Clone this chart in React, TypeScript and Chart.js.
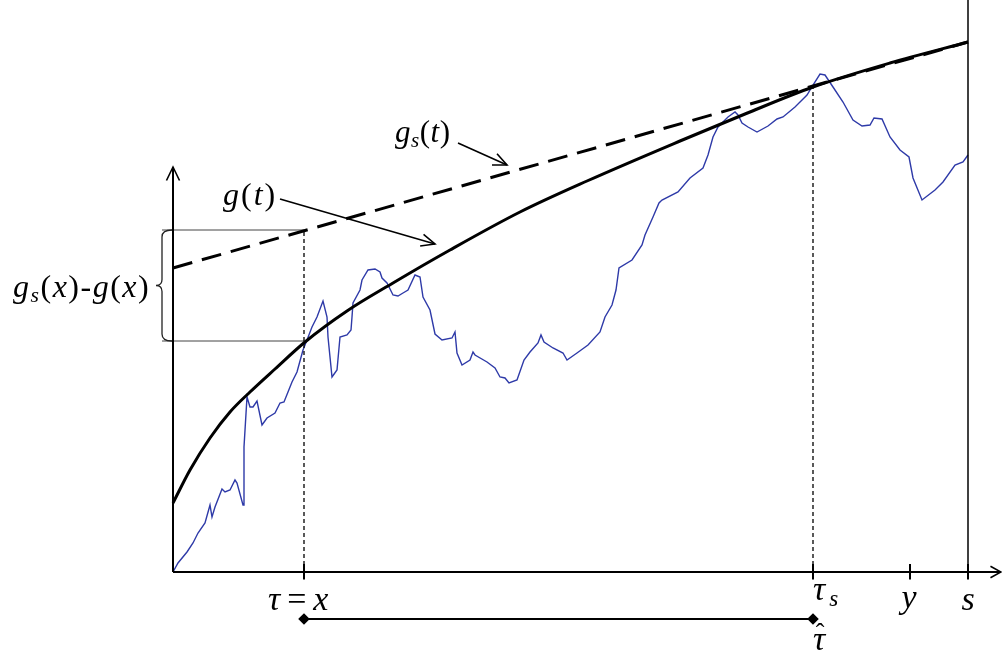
import React, { useEffect, useRef, useState } from "react";
import { Chart, registerables } from "chart.js";

Chart.register(...registerables);

// Brownian-like path W(t)
const walkT = [0.0, 0.5, 1.4, 2.0, 2.5, 3.2, 3.7, 3.9, 4.2, 4.9, 5.2, 5.7, 6.2, 6.4, 7.0, 7.1, 7.4, 7.7, 8.0, 8.4, 8.9, 9.4, 10.2, 10.7, 11.1, 11.5, 11.9, 12.4, 13.0, 13.4, 13.9, 14.4, 15.0, 15.4, 15.5, 15.9, 16.4, 16.7, 17.4, 17.8, 17.9, 18.0, 18.7, 18.9, 19.5, 20.2, 20.7, 20.9, 21.4, 22.0, 22.5, 23.0, 23.5, 24.2, 24.7, 25.0, 25.7, 26.2, 26.9, 27.9, 28.2, 28.4, 28.9, 29.7, 30.0, 30.2, 31.4, 32.2, 32.7, 33.2, 33.6, 34.4, 35.1, 35.7, 36.5, 36.8, 37.1, 38.0, 39.0, 39.4, 40.4, 41.5, 42.7, 43.2, 43.9, 44.3, 44.6, 45.9, 46.9, 47.2, 48.0, 48.6, 48.9, 50.5, 51.7, 53.0, 53.5, 54.0, 54.5, 55.5, 56.2, 56.5, 56.9, 57.5, 58.4, 59.5, 60.4, 61.0, 62.2, 63.4, 64.0, 64.7, 65.2, 66.0, 67.0, 68.0, 68.9, 69.7, 70.1, 70.9, 71.7, 72.7, 73.6, 74.0, 74.9, 76.2, 77.0, 78.2, 79.0, 79.5];
const walkV = [0.0, 0.9, 2.0, 2.9, 3.9, 4.9, 6.7, 5.5, 6.5, 8.3, 8.0, 8.2, 9.2, 8.9, 6.7, 12.5, 17.5, 16.5, 16.5, 17.1, 14.7, 15.4, 15.9, 16.9, 17.0, 18.0, 19.0, 20.0, 22.2, 23.2, 24.5, 25.5, 27.1, 25.5, 23.5, 19.5, 20.2, 23.5, 23.7, 24.2, 25.5, 26.9, 28.2, 29.2, 30.2, 30.3, 30.0, 29.4, 28.9, 27.7, 27.6, 27.9, 28.2, 29.7, 29.5, 27.5, 26.2, 23.8, 23.2, 23.4, 24.0, 21.9, 20.7, 21.2, 22.0, 21.7, 21.0, 20.4, 19.5, 19.4, 18.9, 19.2, 21.2, 22.0, 22.9, 23.7, 23.0, 22.4, 21.9, 21.2, 21.9, 22.7, 24.0, 25.5, 26.7, 28.2, 30.4, 31.2, 32.7, 33.7, 35.5, 36.9, 37.2, 38.0, 39.4, 40.4, 41.7, 43.5, 44.5, 45.5, 46.0, 45.7, 44.9, 44.5, 44.0, 44.6, 45.3, 45.5, 46.5, 47.7, 48.7, 49.8, 49.7, 48.5, 47.0, 45.2, 44.6, 44.7, 45.4, 45.3, 43.5, 42.2, 41.5, 39.4, 37.2, 38.2, 39.0, 40.7, 41.0, 41.7];

// Boundary g(t)
const gT = [0, 1.7, 3.7, 5.7, 7.7, 10.2, 13.2, 17.4, 22.0, 27.7, 34.7, 41.4, 50.7, 57.2, 64.0, 71.7, 79.5];
const gV = [6.9, 10.2, 13.4, 16.0, 18.0, 20.3, 23.0, 26.1, 28.9, 32.2, 36.0, 39.1, 43.1, 45.8, 48.5, 50.9, 53.0];

// Linear majorant g_s(t)
const gsT = [0, 79.5];
const gsV = [30.4, 53.0];

// Marked times on the t axis: τ = x, τ_s, y, s
const markT = [13.1, 64.0, 73.7, 79.5];
// g(x) and g_s(x) at τ = x
const bracketV = [23.1, 34.2];
// g_s(τ_s)
const tauSV = 48.6;
// level of the τ … τ̂ interval
const hatLevel = -4.7;

const X_MIN = -17.3, X_MAX = 82.9, Y_MIN = -8.7, Y_MAX = 57.2;

function arrowHead(ctx: CanvasRenderingContext2D, x1: number, y1: number, x2: number, y2: number, len: number, ang: number) {
  const a = Math.atan2(y2 - y1, x2 - x1);
  ctx.beginPath();
  ctx.moveTo(x2 - len * Math.cos(a - ang), y2 - len * Math.sin(a - ang));
  ctx.lineTo(x2, y2);
  ctx.lineTo(x2 - len * Math.cos(a + ang), y2 - len * Math.sin(a + ang));
  ctx.stroke();
}

const annotations = {
  id: "annotations",
  afterDatasetsDraw(chart: any) {
    const ctx: CanvasRenderingContext2D = chart.ctx;
    const X = (v: number) => chart.scales.x.getPixelForValue(v);
    const Y = (v: number) => chart.scales.y.getPixelForValue(v);
    ctx.save();
    ctx.strokeStyle = "#000";
    ctx.lineCap = "butt";

    // axes
    ctx.lineWidth = 2;
    ctx.beginPath();
    ctx.moveTo(X(0), Y(0));
    ctx.lineTo(X(X_MAX) - 1, Y(0));
    ctx.moveTo(X(0), Y(0));
    ctx.lineTo(X(0), Y(40.5));
    ctx.stroke();
    ctx.lineWidth = 1.6;
    arrowHead(ctx, X(0), Y(0), X(X_MAX) - 1, Y(0), 12, 0.5);
    arrowHead(ctx, X(0), Y(0), X(0), Y(40.5), 15, 0.45);

    // vertical line at s
    ctx.lineWidth = 1.5;
    ctx.beginPath();
    ctx.moveTo(X(markT[3]), Y(Y_MAX));
    ctx.lineTo(X(markT[3]), Y(0));
    ctx.stroke();

    // ticks
    ctx.lineWidth = 2;
    markT.forEach((t) => {
      ctx.beginPath();
      ctx.moveTo(X(t), Y(0.8));
      ctx.lineTo(X(t), Y(-0.75));
      ctx.stroke();
    });

    // brace
    const xr = X(0) - 1, xl = X(0) - 11, xt = X(0) - 17;
    const yt = Y(bracketV[1]), yb = Y(bracketV[0]), ym = (yt + yb) / 2;
    ctx.lineWidth = 1.3;
    ctx.strokeStyle = "#222";
    ctx.beginPath();
    ctx.moveTo(xr, yt);
    ctx.quadraticCurveTo(xl, yt, xl, yt + 7);
    ctx.lineTo(xl, ym - 6);
    ctx.quadraticCurveTo(xl, ym, xt, ym);
    ctx.quadraticCurveTo(xl, ym, xl, ym + 6);
    ctx.lineTo(xl, yb - 7);
    ctx.quadraticCurveTo(xl, yb, xr, yb);
    ctx.stroke();

    // pointer arrows
    ctx.strokeStyle = "#000";
    ctx.lineWidth = 1.6;
    const arrows = [
      [10.7, 37.3, 26.2, 32.8],
      [28.5, 42.9, 33.4, 40.7],
    ];
    arrows.forEach(([a, b, c, d]) => {
      ctx.beginPath();
      ctx.moveTo(X(a), Y(b));
      ctx.lineTo(X(c), Y(d));
      ctx.stroke();
      arrowHead(ctx, X(a), Y(b), X(c), Y(d), 15, 0.42);
    });

    ctx.restore();
  },
};

const I = ({ children }: any) => <span style={{ fontStyle: "italic" }}>{children}</span>;
const Sub = ({ children, shift = 0.22 }: any) => (
  <span style={{ fontStyle: "italic", fontSize: "0.68em", position: "relative", top: `${shift}em` }}>{children}</span>
);

function Label({ at, size, center, spacing = 0, children }: any) {
  if (!at) return null;
  const [x, y] = at;
  return (
    <div
      style={{
        position: "absolute",
        left: x,
        top: y - 0.8375 * size,
        fontFamily: "'Liberation Serif'",
        fontSize: size,
        lineHeight: 1,
        whiteSpace: "nowrap",
        letterSpacing: spacing,
        color: "#000",
        transform: center ? "translateX(-50%)" : undefined,
        pointerEvents: "none",
      }}
    >
      {children}
    </div>
  );
}

export default function App() {
  const ref = useRef<HTMLCanvasElement | null>(null);
  const [anch, setAnch] = useState<any>({});
  useEffect(() => {
    if (!ref.current) return;
    const pts = (xs: number[], ys: number[]) => xs.map((x, i) => ({ x, y: ys[i] }));
    const chart = new Chart(ref.current, {
      type: "scatter",
      data: {
        datasets: [
          { data: pts(gT, gV), showLine: true, borderColor: "#000", borderWidth: 3, pointRadius: 0, cubicInterpolationMode: "monotone" } as any,
          { data: pts(gsT, gsV), showLine: true, borderColor: "#000", borderWidth: 3, borderDash: [20, 10], pointRadius: 0 },
          { data: [{ x: markT[0], y: 0 }, { x: markT[0], y: bracketV[1] }], showLine: true, borderColor: "#000", borderWidth: 1.3, borderDash: [4, 3], pointRadius: 0 },
          { data: [{ x: markT[1], y: 0 }, { x: markT[1], y: tauSV }], showLine: true, borderColor: "#000", borderWidth: 1.3, borderDash: [4, 3], pointRadius: 0 },
          { data: [{ x: -1.1, y: bracketV[1] }, { x: markT[0], y: bracketV[1] }], showLine: true, borderColor: "#444", borderWidth: 1, pointRadius: 0 },
          { data: [{ x: -1.1, y: bracketV[0] }, { x: markT[0], y: bracketV[0] }], showLine: true, borderColor: "#444", borderWidth: 1, pointRadius: 0 },
          {
            data: [{ x: markT[0], y: hatLevel }, { x: markT[1], y: hatLevel }],
            showLine: true, borderColor: "#000", borderWidth: 1.8, pointStyle: "rectRot", pointRadius: 4.5,
            pointBackgroundColor: "#000", pointBorderColor: "#000",
          },
          { data: pts(walkT, walkV), showLine: true, borderColor: "#2e3aa8", borderWidth: 1.4, pointRadius: 0, tension: 0 },
        ],
      },
      options: {
        animation: false,
        responsive: true,
        maintainAspectRatio: false,
        layout: { padding: 0, autoPadding: false },
        events: [],
        plugins: { legend: { display: false }, tooltip: { enabled: false } },
        scales: {
          x: { type: "linear", min: X_MIN, max: X_MAX, display: false },
          y: { type: "linear", min: Y_MIN, max: Y_MAX, display: false },
        },
      },
      plugins: [annotations],
    });
    const X = (v: number) => chart.scales.x.getPixelForValue(v);
    const Y = (v: number) => chart.scales.y.getPixelForValue(v);
    setAnch({
      gsx: [X(-16.0), Y(27.5)],
      gt: [X(5.0), Y(36.7)],
      gst: [X(22.2), Y(43.0)],
      tau: [X(9.5), Y(-3.8)],
      tauS: [X(64.0), Y(-2.8)],
      y: [X(markT[2]) - 1, Y(-3.6)],
      s: [X(markT[3]), Y(-3.8)],
      hat: [X(markT[1]) + 6, Y(-7.8)],
      hatMark: [X(markT[1]) + 7, Y(-7.0)],
    });
    return () => chart.destroy();
  }, []);

  return (
    <div style={{ position: "absolute", left: 0, top: 0, width: 1002, height: 659, background: "#fff" }}>
      <canvas ref={ref} />
      <Label at={anch.gsx} size={32} spacing={1.5}>
        <I>g</I><Sub>s</Sub>(<I>x</I>)-<I>g</I>(<I>x</I>)
      </Label>
      <Label at={anch.gt} size={32} spacing={2}>
        <I>g</I>(<I>t</I>)
      </Label>
      <Label at={anch.gst} size={31} spacing={0.5}>
        <I>g</I><Sub>s</Sub>(<I>t</I>)
      </Label>
      <Label at={anch.tau} size={34} spacing={7}>
        <I>τ</I>=<I>x</I>
      </Label>
      <Label at={anch.tauS} size={34}>
        <I>τ</I><span style={{ marginLeft: 4 }} /><Sub shift={0.3}>s</Sub>
      </Label>
      <Label at={anch.y} size={34} center>
        <I>y</I>
      </Label>
      <Label at={anch.s} size={34} center>
        <I>s</I>
      </Label>
      <Label at={anch.hat} size={34} center>
        <I>τ</I>
      </Label>
      <Label at={anch.hatMark} size={26} center>
        ˆ
      </Label>
    </div>
  );
}
